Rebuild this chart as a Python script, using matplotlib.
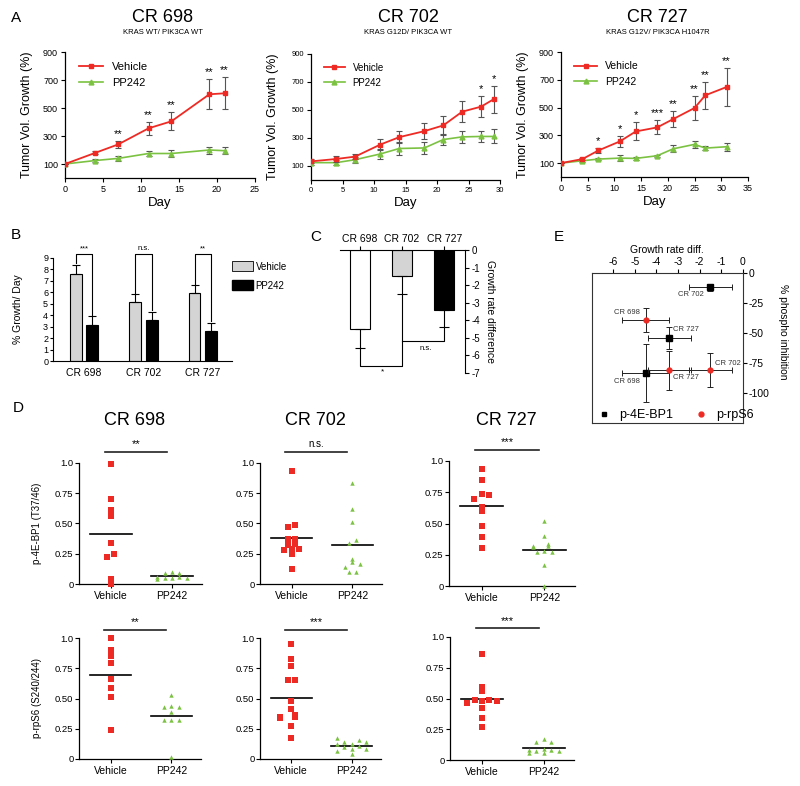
import matplotlib
matplotlib.use('Agg')
import matplotlib.pyplot as plt
import numpy as np
from matplotlib.lines import Line2D
from matplotlib.patches import Patch

plt.rcParams['font.family'] = ['Liberation Sans', 'DejaVu Sans']

RED = '#ee2a24'
GREEN = '#7cc242'
ERRC = '#555555'
W, H = 800, 786

# ---- A: tumour volume growth
days_698 = [0, 4, 7, 11, 14, 19, 21]
veh_698 = [100, 180, 240, 355, 405, 598, 605]
veh_698_err = [0, 10, 25, 45, 65, 108, 115]
pp_698 = [100, 125, 140, 175, 175, 200, 195]
pp_698_err = [0, 8, 15, 20, 25, 25, 25]
stars_698 = ['', '', '**', '**', '**', '**', '**']

days_702 = [0, 4, 7, 11, 14, 18, 21, 24, 27, 29]
veh_702 = [133, 150, 167, 253, 306, 349, 390, 488, 524, 577]
veh_702_err = [15, 20, 20, 40, 45, 55, 65, 75, 75, 95]
pp_702 = [124, 124, 145, 186, 225, 229, 289, 308, 311, 311]
pp_702_err = [15, 20, 20, 35, 45, 40, 40, 45, 40, 50]
stars_702 = ['', '', '', '', '', '', '', '', '*', '*']

days_727 = [0, 4, 7, 11, 14, 18, 21, 25, 27, 31]
veh_727 = [100, 129, 191, 256, 328, 357, 417, 497, 588, 648]
veh_727_err = [0, 10, 20, 40, 65, 50, 60, 85, 95, 135]
pp_727 = [100, 117, 129, 136, 134, 153, 203, 235, 208, 218]
pp_727_err = [0, 8, 10, 20, 10, 8, 25, 25, 15, 30]
stars_727 = ['', '', '*', '*', '*', '***', '**', '**', '**', '**']

# ---- B: growth per day
lines_b = ['CR 698', 'CR 702', 'CR 727']
veh_rate = [7.6, 5.1, 5.9]
veh_rate_err = [0.8, 0.7, 0.7]
pp_rate = [3.1, 3.6, 2.6]
pp_rate_err = [0.8, 0.7, 0.7]
sig_b = ['***', 'n.s.', '**']

# ---- C: growth rate difference
diff_rate = [-4.5, -1.5, -3.4]
diff_err = [1.1, 1.0, 1.0]

# ---- E: growth rate diff vs phospho inhibition
e_rate = [-4.5, -1.5, -3.4]
e_rate_err = [1.1, 1.0, 1.0]
bp1_inhib = [-83, -12, -54]
bp1_inhib_err = [24, 3, 9]
rps6_inhib = [-39, -81, -81]
rps6_inhib_err = [10, 14, 16]

# ---- D: phospho levels per tumour
bp1_veh = [
    [0.99, 0.70, 0.61, 0.56, 0.335, 0.245, 0.22, 0.04, 0.0],
    [0.93, 0.49, 0.47, 0.37, 0.37, 0.33, 0.32, 0.29, 0.29, 0.28, 0.25, 0.12],
    [0.94, 0.85, 0.74, 0.725, 0.70, 0.636, 0.60, 0.48, 0.39, 0.305],
]
bp1_pp = [
    [0.10, 0.09, 0.09, 0.06, 0.06, 0.05, 0.05, 0.04, 0.05],
    [0.83, 0.62, 0.51, 0.36, 0.34, 0.21, 0.18, 0.165, 0.14, 0.10, 0.10],
    [0.52, 0.40, 0.34, 0.32, 0.32, 0.31, 0.28, 0.27, 0.27, 0.17, 0.0],
]
rps6_veh = [
    [1.0, 0.90, 0.85, 0.79, 0.66, 0.59, 0.51, 0.24],
    [0.95, 0.83, 0.77, 0.65, 0.65, 0.48, 0.41, 0.36, 0.35, 0.34, 0.35, 0.27, 0.17],
    [0.86, 0.59, 0.56, 0.49, 0.49, 0.48, 0.48, 0.46, 0.42, 0.34, 0.27],
]
rps6_pp = [
    [0.53, 0.43, 0.43, 0.44, 0.39, 0.32, 0.32, 0.32, 0.02],
    [0.17, 0.16, 0.14, 0.14, 0.12, 0.12, 0.11, 0.10, 0.08, 0.08, 0.07, 0.04],
    [0.17, 0.15, 0.15, 0.09, 0.08, 0.07, 0.06, 0.06, 0.07, 0.08],
]
sig_bp1 = ['**', 'n.s.', '***']
sig_rps6 = ['**', '***', '***']
groups_d = ['Vehicle', 'PP242']

fig = plt.figure(figsize=(W / 100, H / 100), dpi=100)


def px_axes(left, top, right, bottom):
    return fig.add_axes([left / W, 1 - bottom / H, (right - left) / W, (bottom - top) / H])


def ftext(x, y, s, **kw):
    fig.text(x / W, 1 - y / H, s, **kw)


def growth_panel(box, days, veh, veh_err, pp, pp_err, stars, title, subtitle, xmax, fs_tick, fs_leg):
    ax = px_axes(*box)
    ax.errorbar(days, pp, yerr=pp_err, color=GREEN, marker='^', ms=3.5, lw=1.2,
                ecolor=ERRC, elinewidth=0.8, capsize=2, capthick=0.8, zorder=3)
    ax.errorbar(days, veh, yerr=veh_err, color=RED, marker='s', ms=3.2, lw=1.3,
                ecolor=ERRC, elinewidth=0.8, capsize=2, capthick=0.8, zorder=4)
    for d, v, e, s in zip(days, veh, veh_err, stars):
        if s:
            ax.text(d, v + e + 50, s, ha='center', va='center', fontsize=8)
    ax.set_xlim(0, xmax)
    ax.set_ylim(0, 900)
    ax.set_xticks(range(0, xmax + 1, 5))
    ax.set_yticks([100, 300, 500, 700, 900])
    for sp in ['top', 'right']:
        ax.spines[sp].set_visible(False)
    for sp in ['left', 'bottom']:
        ax.spines[sp].set_linewidth(0.9)
    ax.tick_params(labelsize=fs_tick, length=3, width=0.8, pad=2)
    ax.set_xlabel('Day', fontsize=9.5, labelpad=2)
    ax.set_ylabel('Tumor Vol. Growth (%)', fontsize=9)
    ax.yaxis.set_label_coords(-32 / (box[2] - box[0]), 0.5)
    handles = [Line2D([], [], color=RED, marker='s', ms=3.2, lw=1.3),
               Line2D([], [], color=GREEN, marker='^', ms=3.5, lw=1.2)]
    ax.legend(handles, ['Vehicle', 'PP242'], loc='upper left', bbox_to_anchor=(0.02, 1.0),
              frameon=False, fontsize=fs_leg, handlelength=2.2, labelspacing=0.5)
    cx = (box[0] + box[2]) / 2 + 3
    ftext(cx, 18, title, ha='center', va='center', fontsize=13)
    ftext(cx, 33, subtitle, ha='center', va='center', fontsize=5.5)
    return ax


growth_panel((65, 52, 255, 178), days_698, veh_698, veh_698_err, pp_698, pp_698_err,
             stars_698, 'CR 698', 'KRAS WT/ PIK3CA WT', 25, 6.5, 8)
growth_panel((311, 54, 500, 180), days_702, veh_702, veh_702_err, pp_702, pp_702_err,
             stars_702, 'CR 702', 'KRAS G12D/ PIK3CA WT', 30, 5.5, 7)
growth_panel((561, 52, 748, 177), days_727, veh_727, veh_727_err, pp_727, pp_727_err,
             stars_727, 'CR 727', 'KRAS G12V/ PIK3CA H1047R', 35, 6.5, 7.5)

# ---- B
axb = px_axes(53, 257.7, 232, 361)
xb = np.arange(len(lines_b))
axb.bar(xb - 0.14, veh_rate, 0.2, color='#d4d4d4', edgecolor='black', lw=0.8, zorder=2)
axb.bar(xb + 0.14, pp_rate, 0.2, color='black', edgecolor='black', lw=0.8, zorder=2)
axb.errorbar(xb - 0.14, veh_rate, yerr=[np.zeros(3), veh_rate_err], fmt='none',
             ecolor='black', elinewidth=0.8, capsize=3, capthick=0.8)
axb.errorbar(xb + 0.14, pp_rate, yerr=[np.zeros(3), pp_rate_err], fmt='none',
             ecolor='black', elinewidth=0.8, capsize=3, capthick=0.8)
for i in range(3):
    top = 9.3
    y0 = veh_rate[i] + veh_rate_err[i] + 0.15
    y1 = pp_rate[i] + pp_rate_err[i] + 0.15
    axb.plot([i - 0.14, i - 0.14, i + 0.14, i + 0.14], [y0, top, top, y1],
             color='black', lw=0.8, clip_on=False)
    axb.text(i, top + 0.2, sig_b[i], ha='center', va='bottom', fontsize=5.5)
axb.set_xlim(-0.52, 2.49)
axb.set_ylim(0, 9)
axb.set_yticks(range(10))
axb.set_xticks(xb)
axb.set_xticklabels(lines_b)
for sp in ['top', 'right']:
    axb.spines[sp].set_visible(False)
axb.tick_params(axis='y', labelsize=6.5, length=2.5, width=0.8, pad=1)
axb.tick_params(axis='x', labelsize=7.5, length=0, pad=5)
axb.set_ylabel('% Growth/ Day', fontsize=7.5)
axb.yaxis.set_label_coords(-0.17, 0.5)
axb.legend([Patch(facecolor='#d4d4d4', edgecolor='black', lw=0.6),
            Patch(facecolor='black', edgecolor='black')], ['Vehicle', 'PP242'],
           loc='upper left', bbox_to_anchor=(0.95, 1.05), frameon=False, fontsize=7,
           handlelength=2.2, handleheight=1.2, handletextpad=0.25, labelspacing=0.9)

# ---- C
axc = px_axes(340, 250, 465, 373)
xc = np.arange(3)
axc.bar(xc, diff_rate, 0.47, color=['white', '#d4d4d4', 'black'], edgecolor='black', lw=0.8, zorder=2)
axc.errorbar(xc, diff_rate, yerr=[diff_err, np.zeros(3)], fmt='none', ecolor='black',
             elinewidth=0.8, capsize=3.5, capthick=0.8)
lo = [v - e - 0.05 for v, e in zip(diff_rate, diff_err)]
axc.plot([0, 0, 1, 1], [lo[0], -6.6, -6.6, lo[1]], color='black', lw=0.8, clip_on=False)
axc.plot([1, 2, 2], [-5.2, -5.2, lo[2]], color='black', lw=0.8, clip_on=False)
axc.text(0.54, -6.95, '*', ha='center', va='center', fontsize=6)
axc.text(1.55, -5.6, 'n.s.', ha='center', va='center', fontsize=5.5)
axc.set_xlim(-0.47, 2.49)
axc.set_ylim(-7, 0)
axc.xaxis.tick_top()
axc.set_xticks(xc)
axc.set_xticklabels(lines_b)
axc.yaxis.tick_right()
axc.yaxis.set_label_position('right')
axc.set_yticks(range(0, -8, -1))
axc.set_yticklabels(['0'] + [str(v) for v in range(-1, -8, -1)])
for sp in ['left', 'bottom']:
    axc.spines[sp].set_visible(False)
axc.tick_params(axis='x', labelsize=7.5, length=3, width=0.8, pad=1)
axc.tick_params(axis='y', labelsize=7, length=3, width=0.8, pad=2)
axc.set_ylabel('Growth rate difference', fontsize=7.5, rotation=270, labelpad=10)

# ---- E
axe = px_axes(591.7, 272.7, 742.7, 423.3)
axe.errorbar(e_rate, bp1_inhib, xerr=e_rate_err, yerr=bp1_inhib_err, fmt='s', color='black',
             ms=4, ecolor='#222222', elinewidth=0.7, capsize=2, capthick=0.7, zorder=3)
axe.errorbar(e_rate, rps6_inhib, xerr=e_rate_err, yerr=rps6_inhib_err, fmt='o', color=RED,
             ms=3.5, ecolor='#222222', elinewidth=0.7, capsize=2, capthick=0.7, zorder=4)
e_labels = [('CR 702', -2.4, -18), ('CR 698', -5.35, -33), ('CR 727', -2.64, -47),
            ('CR 702', -0.71, -75), ('CR 727', -2.64, -87), ('CR 698', -5.37, -90)]
for s, lx, ly in e_labels:
    axe.text(lx, ly, s, ha='center', va='center', fontsize=5.5, color='#333333')
axe.set_xlim(-7, 0)
axe.set_ylim(-125, 0)
axe.xaxis.tick_top()
axe.xaxis.set_label_position('top')
axe.set_xticks(range(-6, 1))
axe.set_xticklabels([str(v) for v in range(-6, 1)])
axe.yaxis.tick_right()
axe.set_yticks([0, -25, -50, -75, -100])
axe.set_yticklabels(['0', '-25', '-50', '-75', '-100'])
axe.tick_params(labelsize=7.5, length=3, width=0.8, pad=1)
axe.set_xlabel('Growth rate diff.', fontsize=7.5, labelpad=3)
for sp in axe.spines.values():
    sp.set_linewidth(0.8)
    sp.set_color('#333333')
axe.legend([Line2D([], [], marker='s', color='black', ls='none', ms=3.5),
            Line2D([], [], marker='o', color=RED, ls='none', ms=3.5)],
           ['p-4E-BP1', 'p-rpS6'], ncol=2, loc='lower left', bbox_to_anchor=(-0.04, -0.06),
           frameon=False, fontsize=9, handletextpad=0.6, columnspacing=1.6, handlelength=1.2)
ftext(783, 332, '% phospho inhibition', ha='center', va='center', rotation=270, fontsize=7.5)


# ---- D
def swarm(vals, thr=0.028, step=0.12, ncol_max=5):
    # spread points that sit at nearly the same height sideways
    vals = np.asarray(vals, dtype=float)
    order = np.argsort(vals)
    offs = np.zeros(len(vals))
    group = [order[0]]
    for idx in list(order[1:]) + [None]:
        if idx is not None and vals[idx] - vals[group[-1]] < thr:
            group.append(idx)
            continue
        n = len(group)
        ncol = min(n, ncol_max)
        for k, g in enumerate(group):
            offs[g] = ((k * 2) % ncol - (ncol - 1) / 2) * step if ncol > 2 else (k - (n - 1) / 2) * step
        if idx is not None:
            group = [idx]
    return offs


def dot_panel(box, veh, pp, sig, sig_y, title=None, ylabel=None):
    ax = px_axes(*box)
    for pos, vals, col, mk, sz in [(0, veh, RED, 's', 13), (1, pp, GREEN, '^', 10)]:
        ax.scatter(pos + swarm(vals), vals, s=sz, marker=mk, color=col, lw=0, clip_on=False, zorder=3)
        m = np.mean(vals)
        ax.plot([pos - 0.34, pos + 0.34], [m, m], color='black', lw=1.2, zorder=2)
    ax.plot([-0.1, 0.92], [sig_y, sig_y], color='#222222', lw=1.2, clip_on=False)
    ax.text(0.41, sig_y + 0.02, sig, ha='center', va='bottom', fontsize=8 if '*' in sig else 7)
    ax.set_xlim(-0.52, 1.49)
    ax.set_ylim(0, 1.0)
    ax.set_xticks([0, 1])
    ax.set_xticklabels(groups_d)
    ax.set_yticks([0, 0.25, 0.5, 0.75, 1.0])
    ax.set_yticklabels(['0', '0.25', '0.50', '0.75', '1.0'])
    for sp in ['top', 'right']:
        ax.spines[sp].set_visible(False)
    for sp in ['left', 'bottom']:
        ax.spines[sp].set_linewidth(0.9)
    ax.tick_params(axis='y', labelsize=6.8, length=3, width=0.8, pad=1)
    ax.tick_params(axis='x', labelsize=7.5, length=3, width=0.8, pad=2)
    if title:
        cx = (box[0] + box[2]) / 2 - 6
        ftext(cx, 420.7, title, ha='center', va='center', fontsize=13)
    if ylabel:
        ax.set_ylabel(ylabel, fontsize=7)
        ax.yaxis.set_label_coords(-0.30, 0.5)
    return ax


row1 = [(79, 462.7, 202, 584), (260, 462.7, 382, 584), (449, 461, 575, 586)]
row2 = [(79, 638, 201, 759), (260, 638, 381, 759), (450, 637, 574, 760)]
for i in range(3):
    dot_panel(row1[i], bp1_veh[i], bp1_pp[i], sig_bp1[i], 1.09, title=lines_b[i],
              ylabel='p-4E-BP1 (T37/46)' if i == 0 else None)
    dot_panel(row2[i], rps6_veh[i], rps6_pp[i], sig_rps6[i], 1.07,
              ylabel='p-rpS6 (S240/244)' if i == 0 else None)

# panel letters
for s, x, y in [('A', 16, 18), ('B', 16, 235), ('C', 316, 237), ('D', 18, 408), ('E', 559, 237)]:
    ftext(x, y, s, ha='center', va='center', fontsize=11)

fig.savefig('out.png', dpi=100)
